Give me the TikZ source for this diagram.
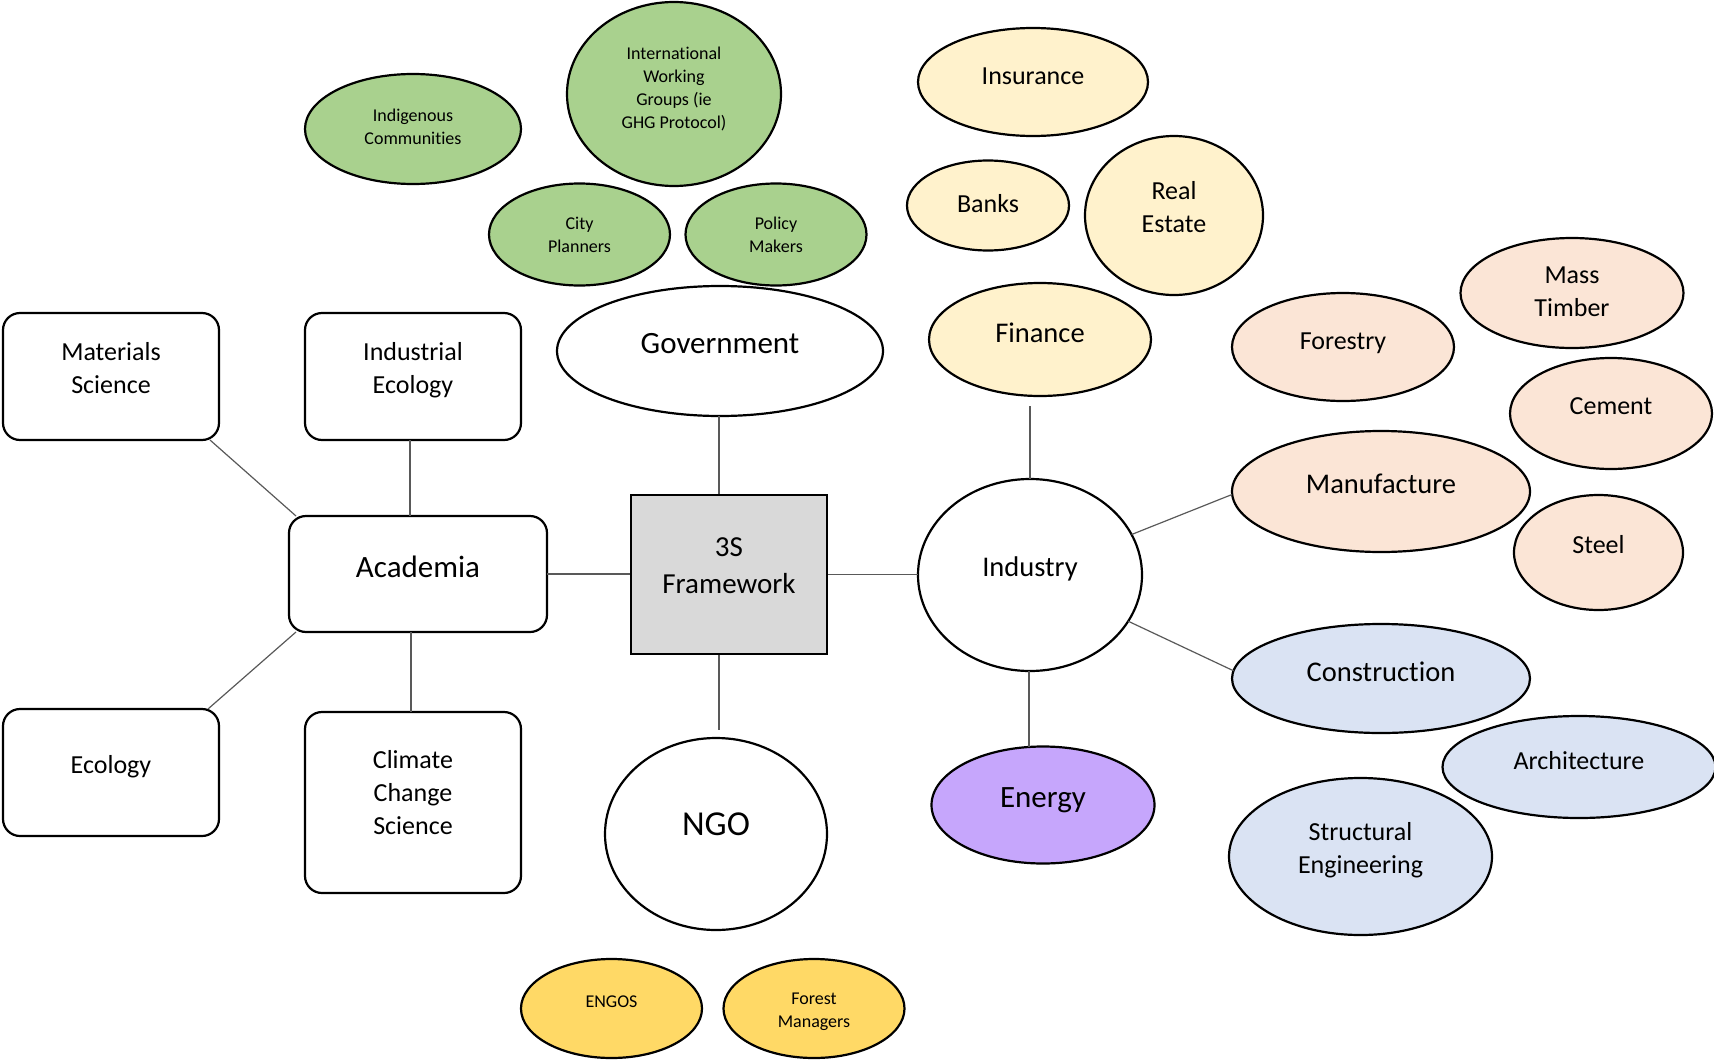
\documentclass[tikz,border=0pt]{standalone}
\usepackage{fontspec}
\setmainfont[Ligatures=NoCommon]{Carlito}
\usetikzlibrary{shapes.geometric}
\newcommand\fsz[2]{\fontsize{#1}{#2}\selectfont}
\definecolor{cgreen}{HTML}{A9D18E}
\definecolor{cyellow}{HTML}{FFF2CC}
\definecolor{cpeach}{HTML}{FBE5D6}
\definecolor{cblue}{HTML}{DAE3F3}
\definecolor{cpurple}{HTML}{C6A6FC}
\definecolor{cgold}{HTML}{FFD966}
\definecolor{cgray}{HTML}{D9D9D9}
\begin{document}
\begin{tikzpicture}[x=1pt,y=-1pt,
  bub/.style={draw=black,line width=2.2pt,ellipse,inner sep=0pt,outer sep=0pt},
  rbox/.style={draw=black,line width=2.2pt,rectangle,rounded corners=17pt,inner sep=0pt,outer sep=0pt},
  conn/.style={draw=black!65,line width=1.2pt},
  lbl/.style={align=center,inner sep=0pt,text=black},
  fS/.style={font=\fsz{18}{23}},
  fM/.style={font=\fsz{26}{33}},
  fL/.style={font=\fsz{28.5}{36}},
  fXL/.style={font=\fsz{31}{38}},
]
\useasboundingbox (0,0) rectangle (1714,1060);

% ---- Government cluster (green)
\node[bub,fill=cgreen,minimum width=216,minimum height=110] (ind-c) at (413,129) {};
\node[bub,fill=cgreen,minimum width=214,minimum height=184] (iwg) at (674,94) {};
\node[bub,fill=cgreen,minimum width=181,minimum height=102] (city) at (579.5,234.5) {};
\node[bub,fill=cgreen,minimum width=181,minimum height=102] (pol) at (776,234.5) {};
\node[bub,fill=white,minimum width=326,minimum height=130] (gov) at (720,351) {};

% ---- Academia cluster (boxes)
\node[rbox,fill=white,minimum width=216,minimum height=127] (ms) at (111,376.5) {};
\node[rbox,fill=white,minimum width=216,minimum height=127] (ie) at (413,376.5) {};
\node[rbox,fill=white,minimum width=258,minimum height=116] (acad) at (418,574) {};
\node[rbox,fill=white,minimum width=216,minimum height=127] (eco) at (111,772.5) {};
\node[rbox,fill=white,minimum width=216,minimum height=181] (cc) at (413,802.5) {};

% ---- centre
\node[draw=black,line width=2.2pt,fill=cgray,minimum width=196,minimum height=159,inner sep=0pt] (fw) at (729,574.5) {};

% ---- NGO cluster
\node[bub,fill=white,minimum width=222,minimum height=192] (ngo) at (716,834) {};
\node[bub,fill=cgold,minimum width=181,minimum height=99] (engo) at (611.5,1008.5) {};
\node[bub,fill=cgold,minimum width=181,minimum height=99] (fman) at (814,1008.5) {};

% ---- Finance cluster (yellow)
\node[bub,fill=cyellow,minimum width=230,minimum height=108] (insu) at (1033,82) {};
\node[bub,fill=cyellow,minimum width=162,minimum height=90] (bank) at (988,205.5) {};
\node[bub,fill=cyellow,minimum width=178,minimum height=159] (rest) at (1174,215.5) {};
\node[bub,fill=cyellow,minimum width=222,minimum height=113] (fin) at (1040,339.5) {};

% ---- Industry cluster
\node[bub,fill=cpeach,minimum width=222,minimum height=108] (fore) at (1343,347) {};
\node[bub,fill=cpeach,minimum width=223,minimum height=110] (mt) at (1572,293) {};
\node[bub,fill=cpeach,minimum width=202,minimum height=111] (cem) at (1611,413.5) {};
\node[bub,fill=cpeach,minimum width=298,minimum height=121] (man) at (1381,491.5) {};
\node[bub,fill=cpeach,minimum width=169,minimum height=115] (steel) at (1598.5,552.5) {};
\node[bub,fill=white,minimum width=224,minimum height=192] (ind) at (1030,575) {};
\node[bub,fill=cblue,minimum width=298,minimum height=109] (con) at (1381,678.5) {};
\node[bub,fill=cblue,minimum width=273,minimum height=102] (arch) at (1579,767) {};
\node[bub,fill=cblue,minimum width=263,minimum height=157] (se) at (1360.5,856.5) {};
\node[bub,fill=cpurple,minimum width=223,minimum height=117] (en) at (1043,805) {};

% ---- labels
\node[lbl,fS] (ind-c-t) at ([yshift=2]ind-c.center) {Indigenous\\Communities};
\node[lbl,fS] (iwg-t) at ([yshift=5]iwg.center) {International\\Working\\Groups (ie\\GHG Protocol)};
\node[lbl,fS] (city-t) at (city.center) {City\\Planners};
\node[lbl,fS] (pol-t) at (pol.center) {Policy\\Makers};
\node[lbl,fXL] (gov-t) at ([yshift=7]gov.center) {Government};
\node[lbl,fM] (ms-t) at ([yshift=8]ms.center) {Materials\\Science};
\node[lbl,fM] (ie-t) at ([yshift=6]ie.center) {Industrial\\Ecology};
\node[lbl,fXL] (acad-t) at ([yshift=7]acad.center) {Academia};
\node[lbl,fM] (eco-t) at ([yshift=6]eco.center) {Ecology};
\node[lbl,fM] (cc-t) at ([yshift=10]cc.center) {Climate\\Change\\Science};
\node[lbl,font=\fsz{29}{37}] (fw-t) at ([yshift=9]fw.center) {3S\\Framework};
\node[lbl,font=\fsz{35}{42}] (ngo-t) at ([yshift=10]ngo.center) {NGO};
\node[lbl,fS] (engo-t) at ([yshift=7]engo.center) {ENGOS};
\node[lbl,fS] (fman-t) at ([yshift=-3]fman.center) {Forest\\Managers};
\node[lbl,fM] (insu-t) at ([yshift=6]insu.center) {Insurance};
\node[lbl,fM] (bank-t) at ([yshift=2]bank.center) {Banks};
\node[lbl,fM] (rest-t) at ([yshift=8]rest.center) {Real\\Estate};
\node[lbl,fL] (fin-t) at ([yshift=7]fin.center) {Finance};
\node[lbl,fM] (fore-t) at ([yshift=4]fore.center) {Forestry};
\node[lbl,fM] (mt-t) at ([yshift=1]mt.center) {Mass\\Timber};
\node[lbl,fM] (cem-t) at ([yshift=7]cem.center) {Cement};
\node[lbl,fL] (man-t) at ([yshift=8]man.center) {Manufacture};
\node[lbl,fM] (steel-t) at ([yshift=8]steel.center) {Steel};
\node[lbl,fL] (ind-t) at ([yshift=6]ind.center) {Industry};
\node[lbl,fL] (con-t) at ([yshift=7]con.center) {Construction};
\node[lbl,fM] (arch-t) at ([yshift=6]arch.center) {Architecture};
\node[lbl,fM] (se-t) at ([yshift=6]se.center) {Structural\\Engineering};
\node[lbl,fXL] (en-t) at ([yshift=5]en.center) {Energy};

% ---- connectors
\path[conn] ([xshift=-1]gov.south) -- ([xshift=-1]gov.south |- fw.north);
\path[conn] ([xshift=-10]fw.south) -- ([xshift=-10,yshift=8]fw.south |- ngo.north);
\path[conn] (acad.east) -- (acad.east -| fw.west);
\path[conn] (fw.east) -- (fw.east -| ind.west);
\path[conn] ([yshift=-10]ind.north |- fin.south) -- (ind.north);
\path[conn] ([xshift=-1]ind.south) -- ([xshift=-1]ind.south |- en.north);
\path[conn] (ind) -- ([yshift=-3]man.west);
\path[conn] (ind) -- (con.177);
\path[conn] ([xshift=-3]ie.south) -- ([xshift=-3]ie.south |- acad.north);
\path[conn] ([xshift=-2]cc.north) -- ([xshift=-2]cc.north |- acad.south);
\path[conn] ([xshift=-9]ms.south east) -- ([xshift=7]acad.north west);
\path[conn] ([xshift=7]acad.south west) -- ([xshift=-11]eco.north east);
\end{tikzpicture}
\end{document}
